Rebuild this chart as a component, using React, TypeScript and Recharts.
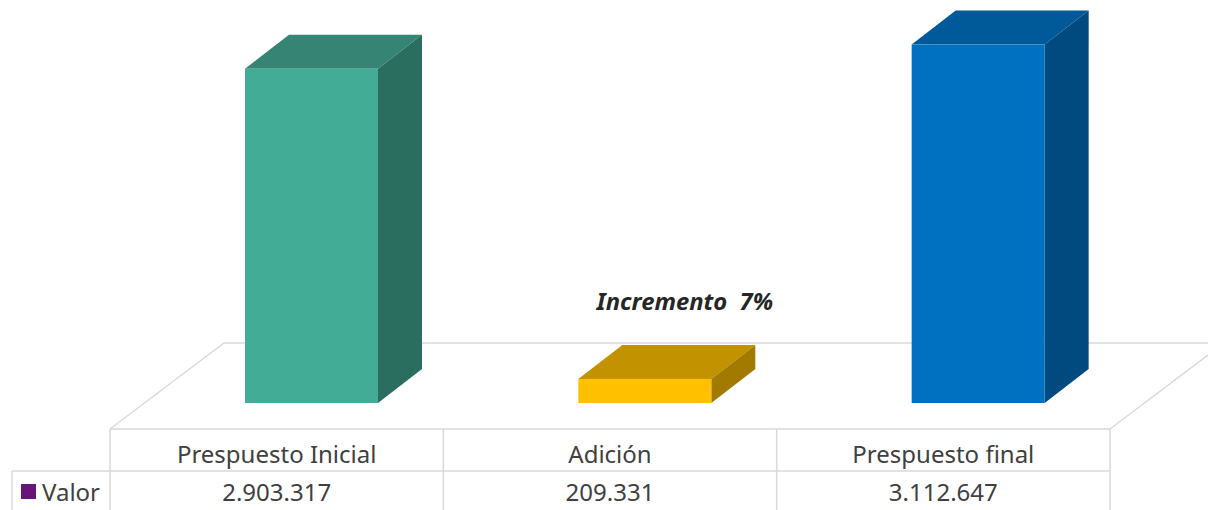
import { Bar, BarChart, LabelList, XAxis, YAxis } from 'recharts';

const categories = ['Prespuesto Inicial', 'Adición', 'Prespuesto final'];
const values = [2903317, 209331, 3112647];
const seriesName = 'Valor';
const annotation = 'Incremento  7%';

const frontColors = ['#43AC97', '#FFC000', '#0070C0'];
const topColors = ['#368473', '#C29200', '#005A9A'];
const sideColors = ['#2A6E60', '#A37A00', '#004A80'];

const W = 1208;
const H = 510;
const DEPTH_X = 44;
const DEPTH_Y = 34;
const FONT = '"Noto Sans", sans-serif';
const LINE = '#D9D9D9';

const data = categories.map((name, i) =>
  Object.freeze({ name, Valor: values[i] }),
);

const fmt = (n: number) => String(n).replace(/\B(?=(\d{3})+(?!\d))/g, '.');

function Bar3D(props: any) {
  const { x, y, width, height, index } = props;
  const x2 = x + width;
  const y2 = y + height;
  return (
    <g>
      <polygon
        points={`${x},${y} ${x + DEPTH_X},${y - DEPTH_Y} ${x2 + DEPTH_X},${y - DEPTH_Y} ${x2},${y}`}
        fill={topColors[index]}
      />
      <polygon
        points={`${x2},${y} ${x2 + DEPTH_X},${y - DEPTH_Y} ${x2 + DEPTH_X},${y2 - DEPTH_Y} ${x2},${y2}`}
        fill={sideColors[index]}
      />
      <rect x={x} y={y} width={width} height={height} fill={frontColors[index]} />
    </g>
  );
}

function AnnotationLabel(props: any) {
  const { x, y, width, index } = props;
  if (index !== 1) return null;
  return (
    <text
      x={x + width / 2 + 40}
      y={y - 69}
      textAnchor="middle"
      fill="#262626"
      fontFamily={FONT}
      fontSize={23.8}
      fontWeight="bold"
      fontStyle="italic"
      style={{ whiteSpace: 'pre' }}
    >
      {annotation}
    </text>
  );
}

// floor + data table drawn underneath the bars
function FloorAndTable() {
  const left = 110;
  const colW = (1110 - left) / categories.length;
  const right = left + colW * categories.length;
  return (
    <svg width={W} height={H} style={{ position: 'absolute', left: 0, top: 0 }}>
      <g stroke={LINE} strokeWidth={1.5} fill="none">
        <line x1={224} y1={343} x2={W} y2={343} />
        <line x1={left} y1={429} x2={224} y2={343} />
        <line x1={right} y1={429} x2={W} y2={355} />
        <line x1={left} y1={429} x2={right} y2={429} />
        <line x1={12} y1={471} x2={right} y2={471} />
        <line x1={12} y1={471} x2={12} y2={H} />
        {Array.from({ length: categories.length + 1 }, (_, i) => (
          <line key={i} x1={left + colW * i} y1={429} x2={left + colW * i} y2={H} />
        ))}
      </g>
      <g fontFamily={FONT} fontSize={24} fill="#404040" textAnchor="middle">
        {categories.map((c, i) => (
          <text key={c} x={left + colW * (i + 0.5)} y={463}>
            {c}
          </text>
        ))}
        {values.map((v, i) => (
          <text key={i} x={left + colW * (i + 0.5)} y={501}>
            {fmt(v)}
          </text>
        ))}
      </g>
      <rect x={21} y={484} width={15} height={15} fill="#68157A" />
      <text x={42} y={501} fontFamily={FONT} fontSize={24} fill="#404040">
        {seriesName}
      </text>
    </svg>
  );
}

export default function App() {
  return (
    <div style={{ position: 'absolute', left: 0, top: 0, width: W, height: H, background: '#fff' }}>
      <FloorAndTable />
      <div style={{ position: 'absolute', left: 0, top: 0 }}>
        <BarChart
          width={W}
          height={H}
          data={data}
          margin={{ top: 0, right: W - 1145, left: 145, bottom: H - 403 }}
          barCategoryGap="30%"
        >
          <XAxis dataKey="name" hide />
          <YAxis hide domain={[0, 3500000]} />
          <Bar dataKey="Valor" shape={<Bar3D />} isAnimationActive={false}>
            <LabelList dataKey="Valor" content={<AnnotationLabel />} />
          </Bar>
        </BarChart>
      </div>
    </div>
  );
}
